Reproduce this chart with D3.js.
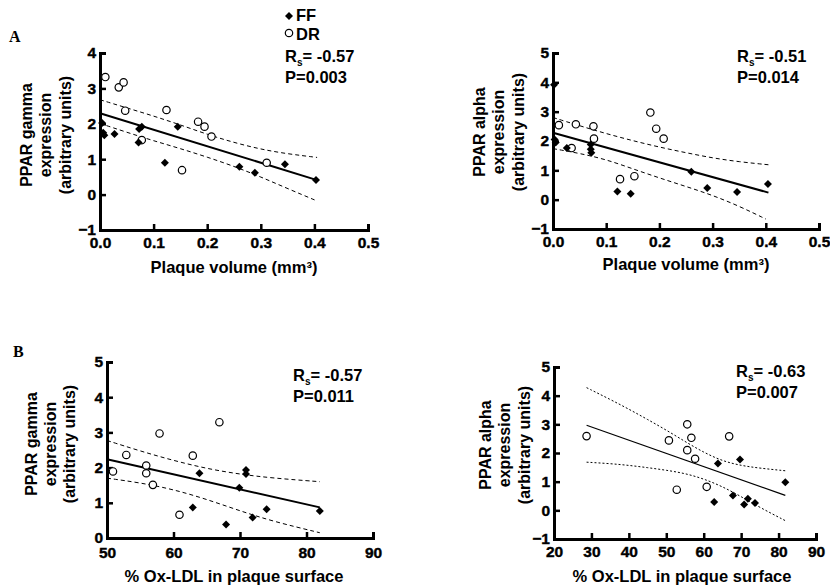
<!DOCTYPE html>
<html>
<head>
<meta charset="utf-8">
<script src="https://d3js.org/d3.v7.min.js"></script>
<style>
  body { margin: 0; background: #fff; }
  svg { display: block; }
  text { font-family: "Liberation Sans", Arial, sans-serif; font-weight: bold; fill: #000; }
</style>
</head>
<body>
<div id="chart"></div>
<script>
// ---- data ----
// panel A, PPAR gamma vs plaque volume
var volGammaFF = [[0.004,2.02],[0.006,1.75],[0.008,1.68],[0.027,1.71],[0.072,1.47],[0.073,1.85],[0.078,1.92],
                  [0.121,0.90],[0.145,1.92],[0.260,0.79],[0.289,0.62],[0.345,0.86],[0.403,0.41]];
var volGammaDR = [[0.010,3.32],[0.035,3.03],[0.044,3.17],[0.047,2.37],[0.078,1.54],[0.124,2.39],[0.153,0.69],
                  [0.183,2.06],[0.195,1.92],[0.208,1.64],[0.311,0.90]];
var volGammaFit = [[0,2.30],[0.405,0.41]];
var volGammaUpper = [[0,2.68],[0.05,2.45],[0.1,2.22],[0.15,1.97],[0.2,1.70],[0.25,1.47],[0.3,1.28],[0.35,1.15],[0.405,1.05]];
var volGammaLower = [[0,2.01],[0.05,1.76],[0.1,1.52],[0.15,1.30],[0.2,1.06],[0.25,0.80],[0.3,0.50],[0.35,0.17],[0.405,-0.18]];

// panel A, PPAR alpha vs plaque volume
var volAlphaFF = [[0.002,3.92],[0.003,2.05],[0.005,1.95],[0.026,1.76],[0.071,1.88],[0.071,1.72],[0.072,1.60],
                  [0.121,0.28],[0.146,0.20],[0.260,0.95],[0.290,0.40],[0.346,0.26],[0.404,0.53]];
var volAlphaDR = [[0.011,2.54],[0.043,2.57],[0.076,2.50],[0.077,2.08],[0.035,1.76],[0.126,0.70],[0.153,0.80],
                  [0.183,2.97],[0.194,2.42],[0.208,2.08]];
var volAlphaFit = [[0,2.28],[0.405,0.24]];
var volAlphaUpper = [[0,2.80],[0.05,2.52],[0.1,2.25],[0.15,2.01],[0.2,1.79],[0.25,1.60],[0.3,1.42],[0.35,1.29],[0.405,1.19]];
var volAlphaLower = [[0,1.74],[0.05,1.58],[0.1,1.37],[0.15,1.05],[0.2,0.74],[0.25,0.45],[0.3,0.15],[0.35,-0.22],[0.4,-0.66]];

// panel B, PPAR gamma vs % Ox-LDL
var oxGammaFF = [[63.9,1.84],[70.9,1.93],[70.9,1.82],[69.9,1.43],[62.9,0.87],[67.9,0.38],[71.9,0.58],[74.0,0.82],[82.0,0.77]];
var oxGammaDR = [[57.9,2.97],[66.9,3.29],[50.9,1.89],[52.9,2.36],[55.9,2.06],[55.9,1.84],[56.9,1.51],[62.9,2.34],[60.9,0.66]];
var oxGammaFit = [[50,2.24],[82,0.87]];
var oxGammaUpper = [[50,2.77],[55,2.47],[60,2.20],[65,1.97],[70,1.81],[75,1.70],[82,1.60]];
var oxGammaLower = [[50,1.70],[55,1.57],[60,1.38],[65,1.10],[70,0.77],[75,0.47],[82,0.15]];

// panel B, PPAR alpha vs % Ox-LDL
var oxAlphaFF = [[63.8,1.63],[69.7,1.77],[81.8,0.98],[62.8,0.29],[67.8,0.52],[71.8,0.40],[70.8,0.20],[73.7,0.26]];
var oxAlphaDR = [[28.7,2.59],[50.7,2.44],[55.6,3.00],[56.7,2.53],[55.6,2.10],[57.7,1.80],[66.8,2.58],[52.8,0.72],[60.8,0.82]];
var oxAlphaFit = [[28.7,2.97],[81.8,0.52]];
var oxAlphaUpper = [[28.7,4.28],[35,3.87],[40,3.53],[45,3.17],[50,2.80],[55,2.40],[60,2.02],[65,1.72],[70,1.56],[75,1.47],[81.8,1.38]];
var oxAlphaLower = [[28.7,1.68],[35,1.63],[40,1.57],[45,1.49],[50,1.40],[55,1.29],[60,1.10],[65,0.83],[70,0.48],[75,0.10],[81.8,-0.36]];

var volTicks = [0, 0.1, 0.2, 0.3, 0.4, 0.5];
var oxTicksB1 = [50, 60, 70, 80, 90];
var oxTicksB2 = [20, 30, 40, 50, 60, 70, 80, 90];
var gammaTicksA = [-1, 0, 1, 2, 3, 4];
var alphaTicks = [-1, 0, 1, 2, 3, 4, 5];
var gammaTicksB = [0, 1, 2, 3, 4, 5];

var gammaTitle = ["PPAR gamma", "expression", "(arbitrary units)"];
var alphaTitle = ["PPAR alpha", "expression", "(arbitrary units)"];
var statsText = [["-0.57", "P=0.003"], ["-0.51", "P=0.014"], ["-0.57", "P=0.011"], ["-0.63", "P=0.007"]];
var legendNames = ["FF", "DR"];

var svg = d3.select("#chart").append("svg")
    .attr("width", 830)
    .attr("height", 585);

var diamond = d3.symbol().type(d3.symbolSquare).size(32);

function drawPanel(p)
{
    var x = d3.scaleLinear().domain(p.xDomain).range([p.left, p.right]);
    var y = d3.scaleLinear().domain(p.yDomain).range([p.bottom, p.top]);

    var g = svg.append("g");

    // axes, ticks pointing inward like the original
    var xAxis = g.append("g")
        .attr("transform", "translate(0," + p.bottom + ")")
        .call(d3.axisBottom(x).tickValues(p.xTicks).tickSize(-6).tickPadding(p.xPad).tickFormat(p.xFormat));
    var yAxis = g.append("g")
        .attr("transform", "translate(" + p.left + ",0)")
        .call(d3.axisLeft(y).tickValues(p.yTicks).tickSize(-6).tickPadding(4).tickFormat(d3.format("d")));

    [xAxis, yAxis].forEach(function(a) {
        a.attr("font-family", null).attr("font-size", null);
        a.select(".domain").attr("stroke", "#000").attr("stroke-width", 3);
        a.selectAll(".tick line").attr("stroke", "#000").attr("stroke-width", 2.5);
        a.selectAll(".tick text")
            .attr("fill", "#000")
            .style("font-family", "'Liberation Sans', Arial, sans-serif")
            .style("font-weight", "bold")
            .style("font-size", "15.5px")
            .style("stroke", "#000")
            .style("stroke-width", 0.4);
    });

    var line = d3.line()
        .x(function(d) { return x(d[0]); })
        .y(function(d) { return y(d[1]); });
    var curve = d3.line()
        .curve(d3.curveBasis)
        .x(function(d) { return x(d[0]); })
        .y(function(d) { return y(d[1]); });

    [p.upper, p.lower].forEach(function(band) {
        g.append("path")
            .attr("d", curve(band))
            .attr("fill", "none")
            .attr("stroke", "#000")
            .attr("stroke-width", 1)
            .attr("stroke-dasharray", p.dash);
    });

    g.append("path")
        .attr("d", line(p.fit))
        .attr("fill", "none")
        .attr("stroke", "#000")
        .attr("stroke-width", p.fitWidth);

    g.selectAll("circle.dr")
        .data(p.dr).enter()
        .append("circle")
        .attr("class", "dr")
        .attr("cx", function(d) { return x(d[0]); })
        .attr("cy", function(d) { return y(d[1]); })
        .attr("r", 3.7)
        .attr("fill", "#fff")
        .attr("stroke", "#000")
        .attr("stroke-width", 1.2);

    g.selectAll("path.ff")
        .data(p.ff).enter()
        .append("path")
        .attr("class", "ff")
        .attr("d", diamond)
        .attr("transform", function(d) { return "translate(" + x(d[0]) + "," + y(d[1]) + ") rotate(45)"; })
        .attr("fill", "#000");

    // y title, three rotated lines
    p.yTitle.forEach(function(t, i) {
        g.append("text")
            .attr("transform", "translate(" + p.yTitleX[i] + "," + p.yTitleY + ") rotate(-90)")
            .attr("text-anchor", "middle")
            .style("font-size", "16px")
            .text(t);
    });

    g.append("text")
        .attr("x", p.xTitlePos[0])
        .attr("y", p.xTitlePos[1])
        .attr("text-anchor", "middle")
        .style("font-size", "16.5px")
        .text(p.xTitle);

    // Spearman stats
    var st = g.append("text")
        .attr("x", p.statPos[0])
        .attr("y", p.statPos[1])
        .style("font-size", "16.5px");
    st.append("tspan").text("R");
    st.append("tspan").attr("dy", 4).style("font-size", "10px").text("s");
    st.append("tspan").attr("dy", -4).text("= " + p.stats[0]);
    g.append("text")
        .attr("x", p.statPos[0])
        .attr("y", p.statPos[1] + 21)
        .style("font-size", "16.5px")
        .text(p.stats[1]);
}

drawPanel({
    xDomain: [0, 0.5], yDomain: [-1, 4], left: 100, right: 368, top: 53, bottom: 230,
    xTicks: volTicks, yTicks: gammaTicksA, xFormat: d3.format(".1f"), xPad: 7,
    ff: volGammaFF, dr: volGammaDR, fit: volGammaFit, upper: volGammaUpper, lower: volGammaLower,
    dash: "4,3", fitWidth: 2,
    yTitle: gammaTitle, yTitleX: [32, 51, 71], yTitleY: 135,
    xTitle: "Plaque volume (mm³)", xTitlePos: [234, 273],
    stats: statsText[0], statPos: [285, 62]
});

drawPanel({
    xDomain: [0, 0.5], yDomain: [-1, 5], left: 553, right: 819, top: 53, bottom: 229,
    xTicks: volTicks, yTicks: alphaTicks, xFormat: d3.format(".1f"), xPad: 7,
    ff: volAlphaFF, dr: volAlphaDR, fit: volAlphaFit, upper: volAlphaUpper, lower: volAlphaLower,
    dash: "4,3", fitWidth: 2,
    yTitle: alphaTitle, yTitleX: [485, 504, 524], yTitleY: 132,
    xTitle: "Plaque volume (mm³)", xTitlePos: [686, 270],
    stats: statsText[1], statPos: [737, 62]
});

drawPanel({
    xDomain: [50, 90], yDomain: [0, 5], left: 107, right: 373, top: 362, bottom: 538,
    xTicks: oxTicksB1, yTicks: gammaTicksB, xFormat: d3.format("d"), xPad: 9,
    ff: oxGammaFF, dr: oxGammaDR, fit: oxGammaFit, upper: oxGammaUpper, lower: oxGammaLower,
    dash: "4,3", fitWidth: 2,
    yTitle: gammaTitle, yTitleX: [37, 56, 75], yTitleY: 444,
    xTitle: "% Ox-LDL in plaque surface", xTitlePos: [234, 582],
    stats: statsText[2], statPos: [293, 381]
});

drawPanel({
    xDomain: [20, 90], yDomain: [-1, 5], left: 554, right: 816, top: 367, bottom: 539,
    xTicks: oxTicksB2, yTicks: alphaTicks, xFormat: d3.format("d"), xPad: 7,
    ff: oxAlphaFF, dr: oxAlphaDR, fit: oxAlphaFit, upper: oxAlphaUpper, lower: oxAlphaLower,
    dash: "2,2", fitWidth: 1.2,
    yTitle: alphaTitle, yTitleX: [491, 510, 530], yTitleY: 445,
    xTitle: "% Ox-LDL in plaque surface", xTitlePos: [682, 582],
    stats: statsText[3], statPos: [736, 377]
});

// legend (top of panel A)
svg.append("path")
    .attr("d", diamond)
    .attr("transform", "translate(289,16) rotate(45)")
    .attr("fill", "#000");
svg.append("circle")
    .attr("cx", 289).attr("cy", 33).attr("r", 3.7)
    .attr("fill", "#fff").attr("stroke", "#000").attr("stroke-width", 1.2);
svg.selectAll("text.legend")
    .data(legendNames).enter()
    .append("text")
    .attr("class", "legend")
    .attr("x", 296)
    .attr("y", function(d, i) { return 21 + i * 18.5; })
    .style("font-size", "16.5px")
    .text(function(d) { return d; });

// panel letters
svg.append("text").attr("x", 9).attr("y", 42)
    .style("font-family", "'Liberation Serif', serif").style("font-size", "16px").text("A");
svg.append("text").attr("x", 13).attr("y", 357)
    .style("font-family", "'Liberation Serif', serif").style("font-size", "16px").text("B");
</script>
</body>
</html>
